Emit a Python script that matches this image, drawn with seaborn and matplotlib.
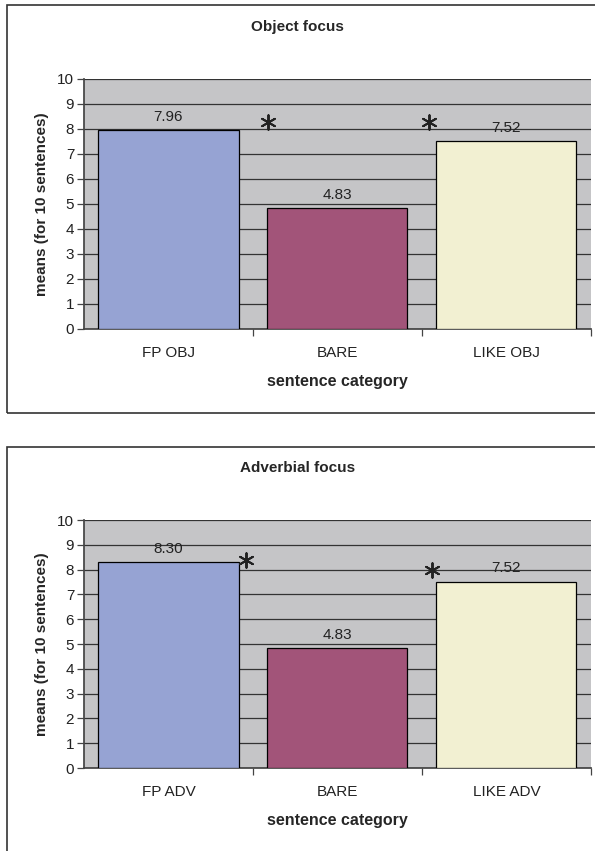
import matplotlib
matplotlib.use("Agg")
import matplotlib.pyplot as plt
from matplotlib.patches import Rectangle
from matplotlib.ticker import FixedLocator
import pandas as pd
import seaborn as sns

# data
obj_categories = ["FP OBJ", "BARE", "LIKE OBJ"]
obj_means = [7.96, 4.83, 7.52]
adv_categories = ["FP ADV", "BARE", "LIKE ADV"]
adv_means = [8.30, 4.83, 7.52]
bar_colors = ["#96A3D3", "#A25479", "#F2F0D2"]
# asterisks marking significant differences (category position, height)
obj_stars_x = [0.59, 1.54]
obj_stars_y = [8.28, 8.28]
adv_stars_x = [0.46, 1.56]
adv_stars_y = [8.39, 7.98]

sns.set_theme(style="white")
plt.rcParams["font.family"] = ["Liberation Sans", "DejaVu Sans"]

fig = plt.figure(figsize=(5.95, 8.51), dpi=100)


def draw_panel(ax, cats, vals, title, stars_x, stars_y, title_y):
    df = pd.DataFrame({"cat": cats, "val": vals})
    sns.barplot(data=df, x="cat", y="val", hue="cat", palette=bar_colors,
                saturation=1, legend=False, width=0.83, edgecolor="black",
                linewidth=0.9, ax=ax, zorder=3)
    ax.set_facecolor("#C5C5C7")
    ax.set_ylim(0, 10)
    ax.set_xlim(-0.5, 2.5)
    ax.set_yticks(range(0, 11))
    ax.yaxis.grid(True, color="#333333", linewidth=0.9)
    ax.set_axisbelow(True)
    for s in ["top", "right"]:
        ax.spines[s].set_visible(False)
    ax.spines["left"].set_color("#444444")
    ax.spines["bottom"].set_color("#444444")
    ax.tick_params(axis="y", direction="out", length=5, width=0.9,
                   color="#444444", labelsize=11, pad=2, left=True,
                   labelcolor="#222222")
    ax.tick_params(axis="x", which="major", length=0, labelsize=11, pad=12,
                   labelcolor="#222222")
    ax.xaxis.set_minor_locator(FixedLocator([0.5, 1.5, 2.5]))
    ax.tick_params(axis="x", which="minor", direction="out", length=5,
                   width=0.9, color="#444444", bottom=True)
    ax.set_xlabel("sentence category", fontsize=11.5, fontweight="bold",
                  labelpad=10)
    ax.set_ylabel("means (for 10 sentences)", fontsize=11,
                  fontweight="bold", labelpad=6)
    for i, v in enumerate(vals):
        ax.text(i, v + 0.25, f"{v:.2f}", ha="center", va="bottom",
                fontsize=11, color="#222222")
    ax.scatter(stars_x, stars_y, marker=(6, 2, 0), s=110, linewidths=1.4,
               color="#222222", zorder=5, clip_on=False)
    fig.text(0.5, title_y, title, ha="center", va="center",
             fontsize=11, fontweight="bold")


ax1 = fig.add_axes([0.141, 0.6134, 0.852, 0.2938])
draw_panel(ax1, obj_categories, obj_means, "Object focus",
           obj_stars_x, obj_stars_y, 1 - 27 / 851)
ax2 = fig.add_axes([0.141, 0.0975, 0.852, 0.2914])
draw_panel(ax2, adv_categories, adv_means, "Adverbial focus",
           adv_stars_x, adv_stars_y, 1 - 468 / 851)

# outer frames around each chart
fig.add_artist(Rectangle((7 / 595, 1 - 413 / 851), 0.99, 408 / 851,
                         transform=fig.transFigure, fill=False,
                         edgecolor="#333333", linewidth=1.2))
fig.add_artist(Rectangle((7 / 595, -0.02), 0.99, 1 - 447 / 851 + 0.02,
                         transform=fig.transFigure, fill=False,
                         edgecolor="#333333", linewidth=1.2))

fig.savefig("out.png", dpi=100)
